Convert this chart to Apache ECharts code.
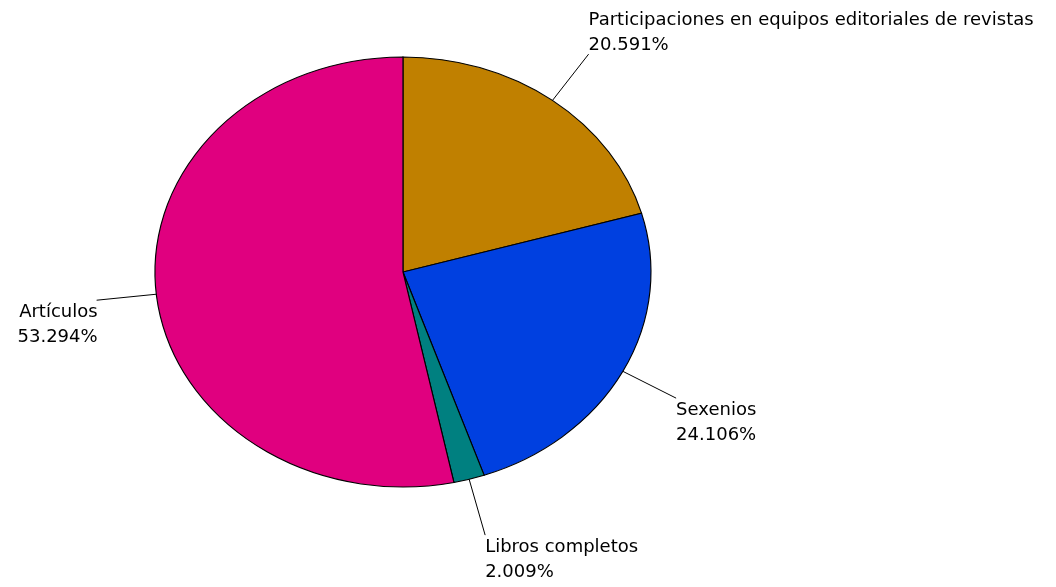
<!DOCTYPE html>
<html>
<head>
<meta charset="utf-8">
<script src="https://cdn.jsdelivr.net/npm/echarts@6/dist/echarts.min.js"></script>
<style>
  html, body { margin: 0; padding: 0; background: #fff; }
  #main { width: 1056px; height: 587px; }
</style>
</head>
<body>
<div id="main"></div>
<script>
var categories = ['Participaciones en equipos editoriales de revistas', 'Sexenios', 'Libros completos', 'Artículos'];
var values = [20.591, 24.106, 2.009, 53.294];
var colors = ['#C08000', '#0040E0', '#008080', '#E0007F'];

var chartDom = document.getElementById('main');
var myChart = echarts.init(chartDom);
var option;

var total = values.reduce(function (a, b) { return a + b; }, 0);

function renderSlice(params, api) {
  var W = api.getWidth();
  var H = api.getHeight();
  var cx = W * 0.3816, cy = H * 0.4634;
  var rx = 248, ry = 215;
  var idx = params.dataIndex;
  var before = 0;
  for (var i = 0; i < idx; i++) before += values[i];
  var v = api.value(1);
  var a0 = -Math.PI / 2 + before / total * Math.PI * 2;
  var a1 = -Math.PI / 2 + (before + v) / total * Math.PI * 2;
  var mid = (a0 + a1) / 2;
  var ex = Math.cos(mid), ey = Math.sin(mid);
  var p0 = [cx + rx * ex, cy + ry * ey];
  var p1 = [p0[0] + 60 * ex, p0[1] + 58 * ey];
  var left = ex >= 0;
  var above = ey < -0.5;
  var label = categories[idx] + '\n' + v.toFixed(3) + '%';
  return {
    type: 'group',
    children: [
      {
        type: 'sector',
        x: cx, y: cy,
        scaleX: rx / ry, scaleY: 1,
        shape: { cx: 0, cy: 0, r0: 0, r: ry, startAngle: a0, endAngle: a1, clockwise: true },
        style: { fill: colors[idx], stroke: '#000', lineWidth: 1, strokeNoScale: true }
      },
      {
        type: 'polyline',
        shape: { points: [p0, p1] },
        style: { stroke: '#000', lineWidth: 1, fill: null }
      },
      {
        type: 'text',
        style: {
          text: label,
          x: p1[0] + (left ? 0 : 1),
          y: above ? p1[1] + 4 : p1[1],
          fill: '#000',
          fontFamily: 'DejaVu Sans',
          fontSize: 18,
          lineHeight: 25,
          align: left ? 'left' : 'right',
          verticalAlign: above ? 'bottom' : 'top'
        }
      }
    ]
  };
}

option = {
  backgroundColor: '#fff',
  animation: false,
  series: [
    {
      type: 'custom',
      coordinateSystem: 'none',
      renderItem: renderSlice,
      data: values.map(function (v, i) { return [i, v]; })
    }
  ]
};

option && myChart.setOption(option);
</script>
</body>
</html>
